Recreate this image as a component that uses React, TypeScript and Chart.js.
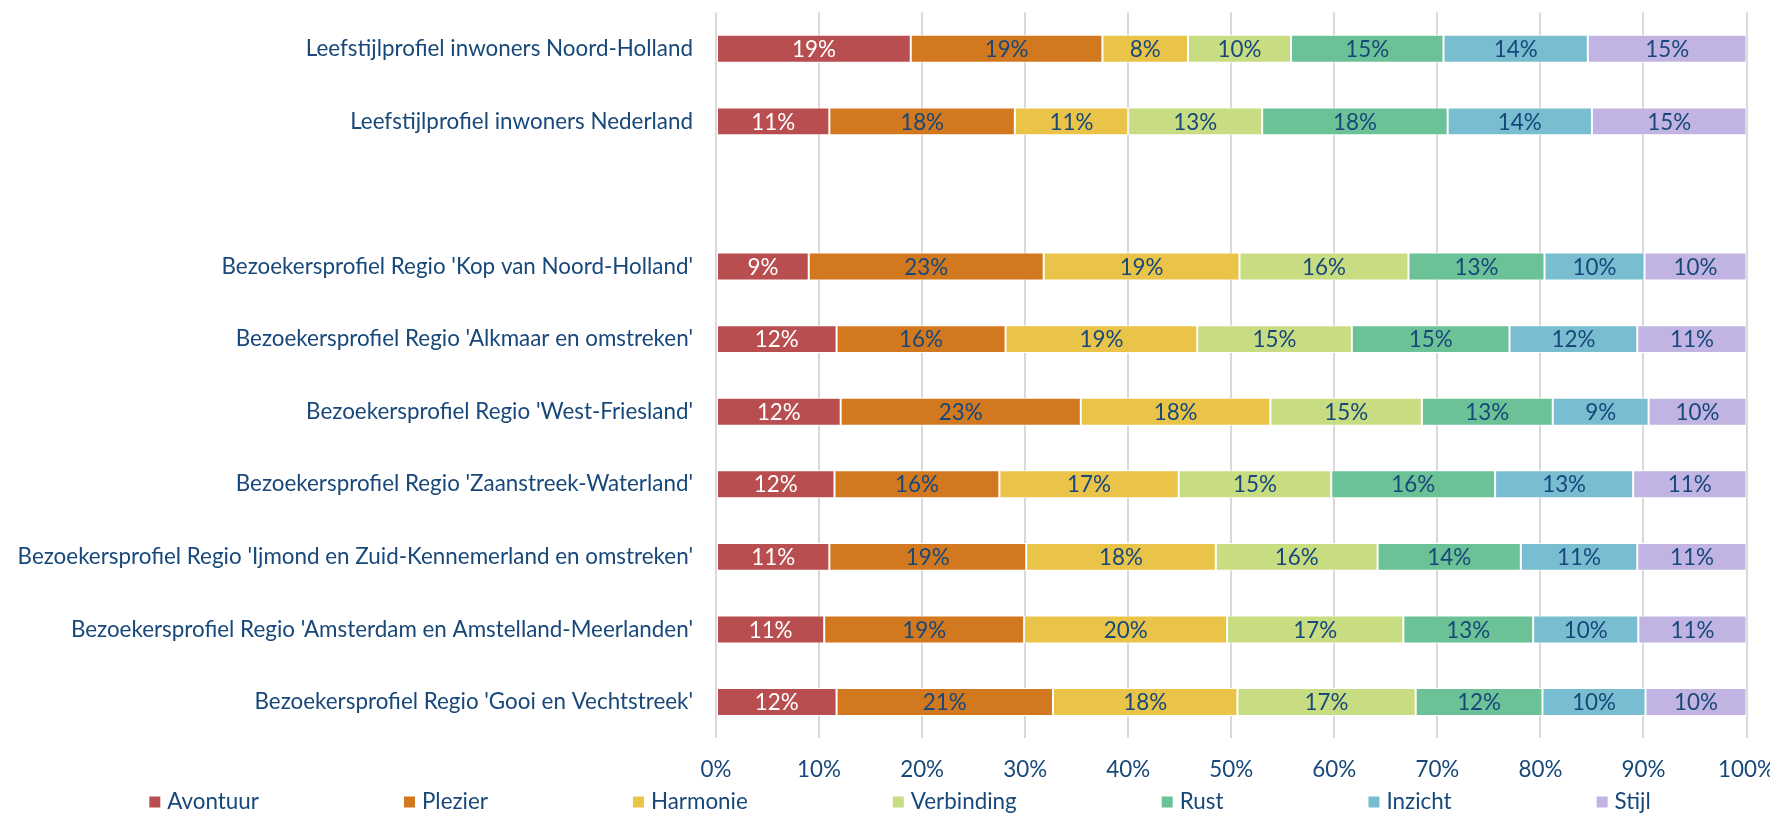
import React, { useEffect, useRef } from 'react';
import { Chart, registerables } from 'chart.js';

Chart.register(...registerables);

const categories = [
  'Leefstijlprofiel inwoners Noord-Holland',
  'Leefstijlprofiel inwoners Nederland',
  '',
  "Bezoekersprofiel Regio 'Kop van Noord-Holland'",
  "Bezoekersprofiel Regio 'Alkmaar en omstreken'",
  "Bezoekersprofiel Regio 'West-Friesland'",
  "Bezoekersprofiel Regio 'Zaanstreek-Waterland'",
  "Bezoekersprofiel Regio 'Ijmond en Zuid-Kennemerland en omstreken'",
  "Bezoekersprofiel Regio 'Amsterdam en Amstelland-Meerlanden'",
  "Bezoekersprofiel Regio 'Gooi en Vechtstreek'",
];

const avontuur = [18.9, 11.0, null, 9.0, 11.7, 12.1, 11.5, 11.0, 10.5, 11.7];
const plezier = [18.6, 18.0, null, 22.8, 16.4, 23.3, 16.0, 19.1, 19.4, 21.0];
const harmonie = [8.3, 11.0, null, 19.0, 18.6, 18.4, 17.4, 18.4, 19.7, 17.9];
const verbinding = [10.0, 13.0, null, 16.4, 15.0, 14.7, 14.8, 15.7, 17.1, 17.3];
const rust = [14.8, 18.0, null, 13.2, 15.3, 12.7, 15.9, 13.9, 12.6, 12.3];
const inzicht = [14.0, 14.0, null, 9.7, 12.4, 9.3, 13.4, 11.3, 10.2, 10.0];
const stijl = [15.4, 15.0, null, 9.9, 10.6, 9.5, 11.0, 10.6, 10.5, 9.8];

const seriesNames = ['Avontuur', 'Plezier', 'Harmonie', 'Verbinding', 'Rust', 'Inzicht', 'Stijl'];
const seriesColors = ['#B94E50', '#D2781E', '#E9C448', '#C8DC82', '#6CC297', '#78BED0', '#C1B4E2'];
const xTickValues = [0, 10, 20, 30, 40, 50, 60, 70, 80, 90, 100];

const NAVY = '#18487A';
const FONT_FAMILY = 'Lato';
const FONT_SIZE = 22.4;
const W = 1762;
const H = 805;

export default function App() {
  const ref = useRef<HTMLCanvasElement>(null);

  useEffect(() => {
    if (!ref.current) return;
    const series = [avontuur, plezier, harmonie, verbinding, rust, inzicht, stijl];

    const dataLabels = {
      id: 'dataLabels',
      afterDatasetsDraw(chart: any) {
        const ctx = chart.ctx;
        ctx.save();
        ctx.font = `${FONT_SIZE}px ${FONT_FAMILY}`;
        ctx.textAlign = 'center';
        ctx.textBaseline = 'middle';
        chart.data.datasets.forEach((ds: any, di: number) => {
          const meta = chart.getDatasetMeta(di);
          meta.data.forEach((el: any, i: number) => {
            const v = ds.data[i];
            if (v === null || v === undefined) return;
            const p = el.getProps(['x', 'y', 'base'], true);
            ctx.fillStyle = di === 0 ? '#FFFFFF' : NAVY;
            ctx.fillText(Math.round(v) + '%', (p.x + p.base) / 2, p.y + 1);
          });
        });
        ctx.restore();
      },
    };

    const customLegend = {
      id: 'customLegend',
      afterDraw(chart: any) {
        const ctx = chart.ctx;
        ctx.save();
        ctx.font = `${FONT_SIZE}px ${FONT_FAMILY}`;
        ctx.textBaseline = 'middle';
        ctx.textAlign = 'left';
        const box = 11;
        const boxGap = 7;
        const gap = 145;
        const items = chart.data.datasets.map((ds: any) => ({
          label: ds.label,
          color: ds.backgroundColor,
          w: box + boxGap + ctx.measureText(ds.label).width,
        }));
        const total = items.reduce((s: number, it: any) => s + it.w, 0) + gap * (items.length - 1);
        let x = 892 - total / 2;
        const y = 794;
        items.forEach((it: any) => {
          ctx.fillStyle = it.color;
          ctx.fillRect(x, y - box / 2, box, box);
          ctx.fillStyle = NAVY;
          ctx.fillText(it.label, x + box + boxGap, y);
          x += it.w + gap;
        });
        ctx.restore();
      },
    };

    const chart = new Chart(ref.current, {
      type: 'bar',
      data: {
        labels: categories,
        datasets: series.map((d, i) => ({
          label: seriesNames[i],
          data: d,
          backgroundColor: seriesColors[i],
          borderColor: '#FFFFFF',
          borderWidth: 1,
          borderSkipped: false,
          barPercentage: 0.385,
          categoryPercentage: 1,
        })),
      },
      options: {
        indexAxis: 'y',
        animation: false,
        responsive: false,
        maintainAspectRatio: false,
        layout: { padding: { top: 4.5, right: 0, bottom: 0, left: 0 } },
        plugins: {
          legend: { display: false },
          tooltip: { enabled: false },
        },
        scales: {
          x: {
            stacked: true,
            min: 0,
            max: 100,
            afterBuildTicks(scale: any) {
              scale.ticks = xTickValues.map((v) => ({ value: v }));
            },
            afterFit(scale: any) {
              scale.height = 74.7;
              scale.paddingLeft = 0;
              scale.paddingRight = 23.5;
            },
            ticks: {
              color: NAVY,
              font: { family: FONT_FAMILY, size: FONT_SIZE },
              padding: 18,
              callback: (v: any) => v + '%',
              maxRotation: 0,
            },
            grid: { color: '#D9D9D9', lineWidth: 2, drawTicks: false },
            border: { display: false },
          },
          y: {
            stacked: true,
            afterFit(scale: any) {
              scale.width = 708;
              scale.paddingTop = 0;
              scale.paddingBottom = 0;
            },
            ticks: {
              color: NAVY,
              font: { family: FONT_FAMILY, size: FONT_SIZE },
              padding: 23,
              autoSkip: false,
            },
            grid: { display: false, drawTicks: false },
            border: { display: false },
          },
        },
      },
      plugins: [dataLabels, customLegend],
    });

    return () => chart.destroy();
  }, []);

  return (
    <div style={{ position: 'fixed', left: 8, top: 8, width: W, height: H }}>
      <canvas ref={ref} width={W} height={H} style={{ display: 'block', width: W, height: H }} />
    </div>
  );
}
